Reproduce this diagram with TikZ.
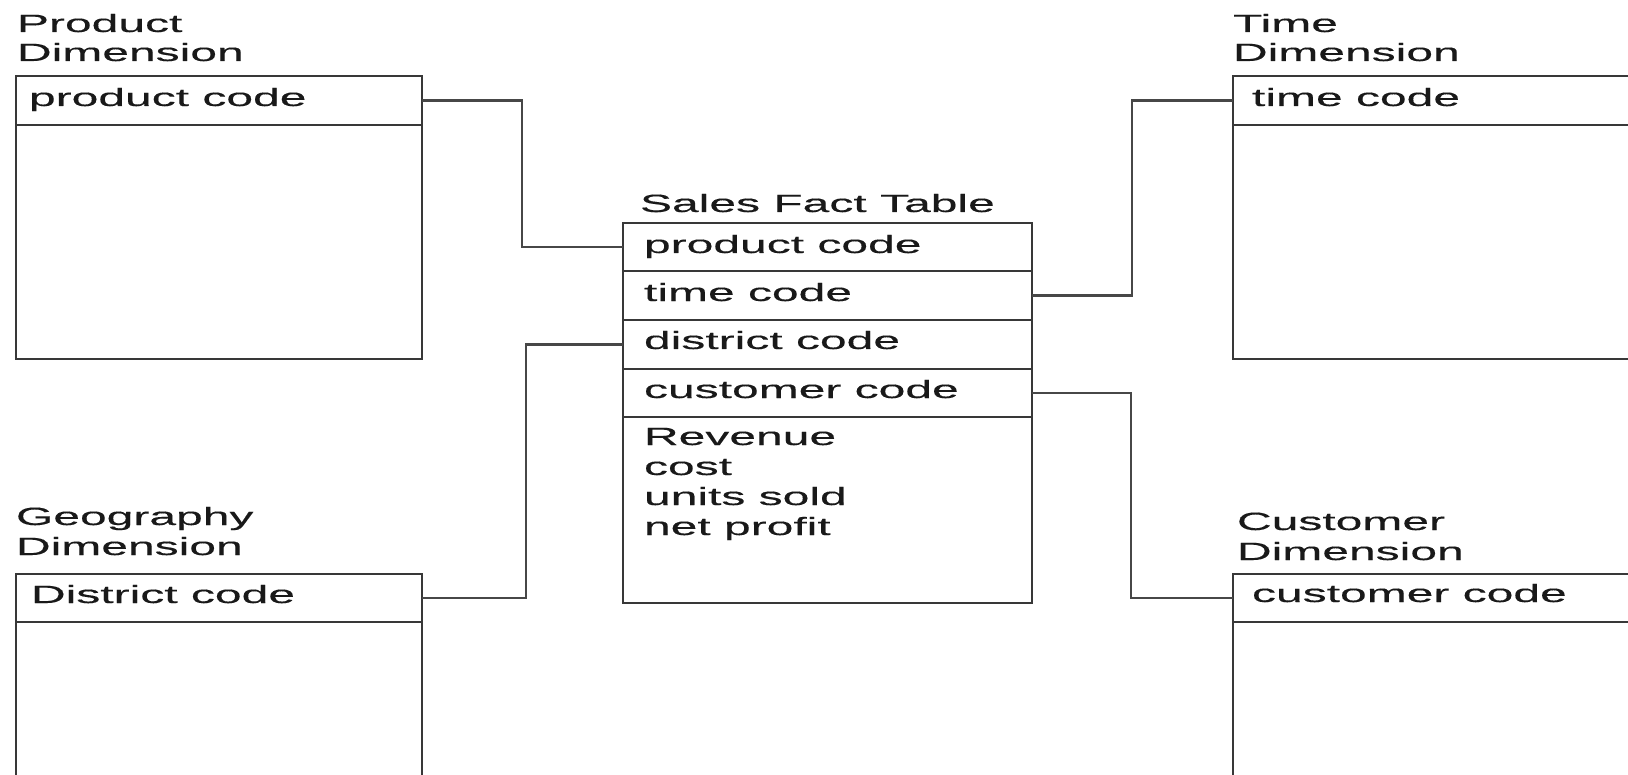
\documentclass[tikz,border=0pt]{standalone}
\usepackage{fontspec}
\newfontfamily\widefont[FakeStretch=1.92,FakeBold=0.3]{Liberation Sans}
\begin{document}
\begin{tikzpicture}[x=0.5pt,y=-0.5pt,
  box/.style={draw=black!78, line width=1.3pt, rectangle, inner sep=0pt, outer sep=0pt, anchor=north west},
  txt/.style={anchor=base west, inner sep=0pt, outer sep=0pt, font=\widefont\fontsize{12.5pt}{15pt}\selectfont, text=black!90},
  link/.style={draw=black!72, line width=1.2pt}]
\useasboundingbox (0,0) rectangle (1628,775);
\clip (0,0) rectangle (1628,775);
% Product dimension
\node[box, minimum width=203pt, minimum height=24.5pt] (ph) at (16,76) {};
\node[box, minimum width=203pt, minimum height=117pt] (pb) at (16,125) {};
\node[txt] (pt1) at (17,32) {Product};
\node[txt] (pt2) at (17,61) {Dimension};
\node[txt] (pc) at (29,106) {product code};
% Time dimension
\node[box, minimum width=210pt, minimum height=24.5pt] (th) at (1233,76) {};
\node[box, minimum width=210pt, minimum height=117pt] (tb) at (1233,125) {};
\node[txt] (tt1) at (1233,32) {Time};
\node[txt] (tt2) at (1233,61) {Dimension};
\node[txt] (tc) at (1252,106) {time code};
% Geography dimension
\node[box, minimum width=203pt, minimum height=24pt] (gh) at (16,574) {};
\node[box, minimum width=203pt, minimum height=90pt] (gb) at (16,622) {};
\node[txt] (gt1) at (16,525) {Geography};
\node[txt] (gt2) at (16,555) {Dimension};
\node[txt] (gc) at (31,603) {District code};
% Customer dimension
\node[box, minimum width=210pt, minimum height=24pt] (ch) at (1233,574) {};
\node[box, minimum width=210pt, minimum height=90pt] (cb) at (1233,622) {};
\node[txt] (ct1) at (1237,530) {Customer};
\node[txt] (ct2) at (1237,560) {Dimension};
\node[txt] (cc) at (1252,602) {customer code};
% Sales fact table
\node[txt] (ft) at (640,212) {Sales Fact Table};
\node[box, minimum width=204.5pt, minimum height=24pt] (f1) at (623,223) {};
\node[box, minimum width=204.5pt, minimum height=24.5pt] (f2) at (623,271) {};
\node[box, minimum width=204.5pt, minimum height=24.5pt] (f3) at (623,320) {};
\node[box, minimum width=204.5pt, minimum height=24pt] (f4) at (623,369) {};
\node[box, minimum width=204.5pt, minimum height=93pt] (f5) at (623,417) {};
\node[txt] (f1t) at (644,253) {product code};
\node[txt] (f2t) at (644,301) {time code};
\node[txt] (f3t) at (644,349) {district code};
\node[txt] (f4t) at (644,398) {customer code};
\node[txt] (m1) at (644,445) {Revenue};
\node[txt] (m2) at (644,475) {cost};
\node[txt] (m3) at (644,505) {units sold};
\node[txt] (m4) at (644,535) {net profit};
% Connectors
\draw[link] (ph.east) -- ++(100,0) |- (f1.west);
\draw[link] (gh.east) -- ++(104,0) |- (f3.west);
\draw[link] (f2.east) -- ++(100,0) |- (th.west);
\draw[link] (f4.east) -- ++(99,0) |- (ch.west);
\end{tikzpicture}
\end{document}
